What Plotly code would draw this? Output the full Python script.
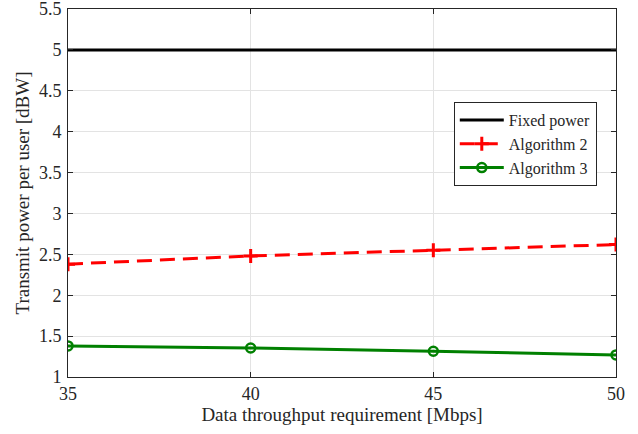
import plotly.graph_objects as go

x_vals = [35, 40, 45, 50]
fixed_power = [5, 5, 5, 5]
algorithm2 = [2.38, 2.48, 2.55, 2.62]
algorithm3 = [1.38, 1.355, 1.315, 1.27]
x_ticks = [35, 40, 45, 50]
y_ticks = [1, 1.5, 2, 2.5, 3, 3.5, 4, 4.5, 5, 5.5]
y_ticktext = ["1", "1.5", "2", "2.5", "3", "3.5", "4", "4.5", "5", "5.5"]

font_family = "Liberation Serif"
txt = "#262626"

fig = go.Figure()
fig.add_trace(go.Scatter(x=x_vals, y=fixed_power, mode="lines", name="Fixed power",
                         line=dict(color="black", width=3)))
fig.add_trace(go.Scatter(x=x_vals, y=algorithm2, mode="lines+markers", name="Algorithm 2",
                         line=dict(color="red", width=3, dash="15px,8px"),
                         marker=dict(symbol="cross-thin", size=10, color="red",
                                     line=dict(color="red", width=3))))
fig.add_trace(go.Scatter(x=x_vals, y=algorithm3, mode="lines+markers", name="Algorithm 3",
                         line=dict(color="green", width=3),
                         marker=dict(symbol="circle-open", size=9, color="green",
                                     line=dict(color="green", width=2.5))))

axis_common = dict(
    showline=True, linecolor=txt, linewidth=1, mirror="allticks",
    ticks="inside", ticklen=5, tickcolor=txt,
    showgrid=True, gridcolor="#e3e3e3", gridwidth=1, zeroline=False,
    tickfont=dict(family=font_family, size=18, color=txt),
    automargin=False, ticklabeloverflow="allow",
)

fig.update_xaxes(range=[35, 50], tickvals=x_ticks,
                 title=dict(text="Data throughput requirement [Mbps]",
                            font=dict(family=font_family, size=19, color=txt),
                            standoff=2),
                 ticklabelstandoff=0,
                 **axis_common)
fig.update_yaxes(range=[1, 5.5], tickvals=y_ticks, ticktext=y_ticktext,
                 title=dict(text="Transmit power per user [dBW]",
                            font=dict(family=font_family, size=19, color=txt),
                            standoff=4),
                 ticklabelstandoff=2,
                 **axis_common)

fig.update_layout(
    width=638, height=434,
    margin=dict(l=68, r=22, t=9, b=57),
    plot_bgcolor="white", paper_bgcolor="white",
    font=dict(family=font_family, color=txt),
    legend=dict(x=0.704, y=0.747, xanchor="left", yanchor="top",
                bgcolor="white", bordercolor=txt, borderwidth=1,
                font=dict(family=font_family, size=16, color=txt),
                itemwidth=44, tracegroupgap=0),
    showlegend=True,
)

fig.write_html("out.html", config={"displayModeBar": False},
               post_script="document.body.style.margin='0';")
